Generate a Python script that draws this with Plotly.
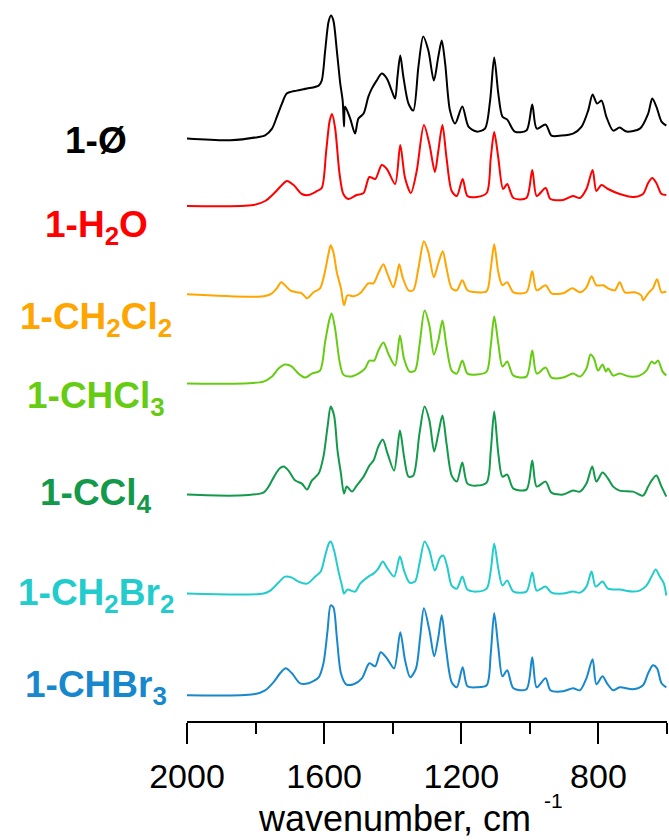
import plotly.graph_objects as go

# ---------------- data ----------------
labels = ["1-Ø", "1-H<sub>2</sub>O", "1-CH<sub>2</sub>Cl<sub>2</sub>", "1-CHCl<sub>3</sub>",
          "1-CCl<sub>4</sub>", "1-CH<sub>2</sub>Br<sub>2</sub>", "1-CHBr<sub>3</sub>"]
colors = ["#000000", "#FF0000", "#FFA500", "#66CC11", "#12994A", "#22CCCC", "#1888CC"]
offsets = [5.824, 5.15, 4.267, 3.374, 2.264, 1.274, 0.257]
label_y = [5.81, 4.94, 4.02, 3.23, 2.26, 1.26, 0.34]

wn_black = [2000, 1874, 1791, 1772, 1752, 1738, 1723, 1709, 1680, 1650, 1616, 1607, 1597, 1587, 1580, 1573, 1563, 1553, 1546, 1542, 1539, 1524, 1510, 1500, 1485, 1471, 1461, 1447, 1432, 1417, 1403, 1393, 1386, 1378, 1369, 1354, 1340, 1325, 1311, 1296, 1280, 1267, 1257, 1247, 1233, 1218, 1197, 1179, 1155, 1131, 1116, 1104, 1092, 1080, 1066, 1044, 1010, 993, 980, 954, 937, 908, 874, 849, 830, 817, 804, 791, 777, 757, 738, 718, 679, 655, 643, 631, 616, 602]
ab_black = [0, -1.7, 1.7, 3.3, 10, 21.7, 35, 45, 48, 50, 53, 58, 88, 117, 123, 118, 88, 55, 38, 12, 32, 20, 5, 20, 25, 42, 50, 58, 65, 60, 48, 40, 62, 83, 62, 35, 28, 72, 102, 88, 58, 82, 98, 75, 28, 15, 32, 12, 7, 10, 38, 81, 45, 22, 19, 7, 8, 34, 10, 14, 3, 3, 5, 12, 28, 44, 35, 38, 22, 8, 11, 7, 10, 25, 40, 32, 17, 13]

wn_red = [2000, 1806, 1772, 1748, 1723, 1709, 1689, 1665, 1646, 1621, 1607, 1594, 1584, 1577, 1568, 1555, 1544, 1529, 1505, 1485, 1468, 1451, 1432, 1417, 1393, 1378, 1364, 1347, 1330, 1309, 1293, 1277, 1267, 1255, 1243, 1228, 1213, 1196, 1182, 1155, 1126, 1114, 1104, 1092, 1078, 1066, 1048, 1010, 993, 980, 954, 940, 903, 874, 854, 835, 817, 806, 791, 772, 738, 699, 670, 655, 643, 631, 616, 602]
ab_red = [0, 1, 5, 12, 21, 25, 21, 12, 11, 15, 18, 55, 85, 92, 78, 32, 12, 7, 11, 13, 29, 27, 41, 37, 22, 61, 28, 13, 35, 81, 62, 34, 55, 81, 48, 15, 10, 27, 10, 9, 13, 48, 74, 48, 17, 22, 8, 8, 36, 10, 18, 7, 6, 10, 8, 17, 36, 15, 21, 17, 12, 9, 12, 23, 28, 23, 12, 11]

wn_orange = [2000, 1777, 1752, 1738, 1725, 1714, 1699, 1680, 1665, 1650, 1631, 1612, 1600, 1587, 1581, 1573, 1563, 1551, 1542, 1532, 1514, 1495, 1471, 1456, 1442, 1427, 1417, 1398, 1390, 1381, 1371, 1354, 1340, 1325, 1309, 1296, 1280, 1267, 1254, 1243, 1228, 1213, 1197, 1182, 1155, 1126, 1114, 1104, 1092, 1080, 1066, 1048, 1010, 993, 980, 954, 937, 903, 876, 854, 835, 820, 806, 786, 772, 752, 738, 723, 694, 675, 670, 655, 641, 629, 616, 602]
ab_orange = [0, -2, 1, 6, 12, 9, 4, 2, 1, -4, 2, 6, 19, 41, 49, 42, 22, 6, -11, -1, -2, 1, 11, 11, 21, 30, 22, 7, 16, 30, 17, 4, 4, 26, 53, 42, 17, 31, 43, 26, 6, 4, 14, 4, 2, 3, 26, 50, 22, 9, 12, 2, 2, 23, 4, 9, 1, 1, 6, 2, 7, 18, 9, 9, 6, 4, 12, 2, 2, -1, -6, 1, 6, 15, 2, 3]

wn_lgreen = [2000, 1777, 1752, 1733, 1714, 1694, 1675, 1655, 1636, 1612, 1597, 1584, 1578, 1568, 1555, 1544, 1524, 1500, 1481, 1468, 1454, 1442, 1427, 1413, 1393, 1379, 1367, 1351, 1335, 1322, 1307, 1293, 1280, 1267, 1255, 1243, 1228, 1213, 1197, 1182, 1155, 1126, 1114, 1104, 1092, 1080, 1066, 1048, 1010, 993, 980, 954, 937, 903, 874, 854, 835, 823, 813, 801, 788, 778, 772, 757, 738, 709, 680, 660, 645, 636, 626, 613, 602]
ab_lgreen = [0, 2, 7, 15, 19, 17, 10, 6, 10, 13, 42, 65, 70, 55, 22, 9, 7, 10, 15, 23, 23, 33, 41, 30, 18, 48, 25, 12, 13, 38, 73, 58, 29, 43, 63, 37, 13, 10, 23, 10, 9, 12, 38, 67, 40, 17, 22, 8, 7, 33, 10, 16, 6, 6, 10, 7, 15, 29, 25, 13, 19, 12, 15, 8, 10, 7, 8, 13, 22, 20, 23, 12, 8]

wn_dgreen = [2000, 1854, 1777, 1762, 1746, 1730, 1718, 1704, 1684, 1665, 1650, 1636, 1616, 1602, 1590, 1581, 1571, 1561, 1551, 1542, 1534, 1519, 1505, 1485, 1468, 1456, 1442, 1429, 1415, 1396, 1379, 1367, 1354, 1340, 1322, 1307, 1293, 1279, 1267, 1255, 1243, 1228, 1213, 1197, 1182, 1155, 1126, 1114, 1104, 1092, 1080, 1066, 1048, 1010, 993, 980, 954, 937, 903, 874, 854, 835, 818, 806, 788, 772, 757, 738, 699, 670, 655, 643, 631, 616, 602]
ab_dgreen = [0, -1, 2, 8, 18, 26, 28, 24, 14, 11, 5, 14, 21, 38, 68, 88, 79, 44, 21, 1, 8, 3, 9, 18, 29, 34, 48, 55, 41, 24, 64, 38, 18, 19, 61, 88, 74, 43, 61, 79, 51, 19, 13, 32, 11, 9, 12, 44, 83, 41, 18, 20, 6, 5, 34, 8, 13, 2, 0, 4, 3, 11, 28, 13, 22, 16, 8, 4, 3, -1, 8, 15, 19, 8, -2]

wn_cyan = [2000, 1777, 1757, 1733, 1714, 1694, 1675, 1650, 1626, 1610, 1597, 1585, 1580, 1571, 1558, 1548, 1542, 1532, 1510, 1495, 1471, 1456, 1442, 1429, 1417, 1396, 1379, 1367, 1351, 1335, 1322, 1307, 1293, 1277, 1262, 1252, 1241, 1228, 1213, 1197, 1182, 1155, 1126, 1114, 1104, 1092, 1080, 1066, 1048, 1010, 993, 980, 954, 937, 903, 874, 854, 835, 820, 808, 788, 772, 738, 699, 680, 660, 645, 633, 621, 609, 602]
ab_cyan = [0, 0, 3, 11, 17, 16, 12, 10, 17, 22, 38, 51, 52, 43, 22, 8, 0, 4, 2, 10, 17, 20, 25, 32, 26, 17, 37, 23, 11, 12, 30, 52, 43, 23, 36, 38, 27, 8, 5, 17, 4, 2, 5, 23, 50, 25, 8, 13, 2, 2, 21, 3, 7, 1, 0, 2, 1, 7, 22, 7, 12, 5, 4, 2, 3, 8, 17, 24, 17, 10, -2]

wn_blue = [2000, 1806, 1772, 1748, 1726, 1712, 1694, 1670, 1646, 1616, 1602, 1590, 1581, 1573, 1563, 1551, 1536, 1514, 1490, 1468, 1451, 1435, 1417, 1396, 1378, 1364, 1349, 1332, 1320, 1309, 1293, 1279, 1267, 1257, 1245, 1228, 1213, 1196, 1182, 1155, 1126, 1114, 1104, 1092, 1080, 1066, 1048, 1010, 993, 980, 954, 940, 903, 874, 854, 835, 817, 806, 788, 775, 757, 738, 699, 670, 655, 641, 629, 616, 602]
ab_blue = [0, 1, 5, 13, 23, 27, 22, 12, 12, 18, 32, 65, 90, 88, 58, 22, 11, 11, 17, 32, 29, 43, 37, 27, 63, 35, 18, 27, 58, 87, 65, 39, 58, 80, 48, 13, 8, 28, 9, 8, 10, 42, 82, 48, 19, 25, 7, 6, 38, 8, 17, 5, 4, 7, 5, 17, 36, 11, 19, 12, 5, 8, 6, 10, 22, 30, 27, 12, 8]

wavenumbers = [wn_black, wn_red, wn_orange, wn_lgreen, wn_dgreen, wn_cyan, wn_blue]
absorbances = [ab_black, ab_red, ab_orange, ab_lgreen, ab_dgreen, ab_cyan, ab_blue]

x_ticks = [2000, 1600, 1200, 800]
x_minor = [1800, 1400, 1000, 600]
scale = 0.01  # absorbance (a.u.) per digitized unit

FONT = "Arial, Liberation Sans, sans-serif"

fig = go.Figure()
for wn, ab, off, col in zip(wavenumbers, absorbances, offsets, colors):
    fig.add_trace(go.Scatter(
        x=wn, y=[off + v * scale for v in ab], mode="lines",
        line=dict(color=col, width=2, shape="spline", smoothing=0.8),
        showlegend=False, hoverinfo="skip"))

for lab, ly, col in zip(labels, label_y, colors):
    fig.add_annotation(x=-0.189, xref="paper", y=ly, yref="y",
                       text="<b>" + lab + "</b>", showarrow=False,
                       xanchor="center", yanchor="middle",
                       font=dict(family=FONT, size=37, color=col))

fig.add_annotation(x=0.433, xref="paper", y=-0.166, yref="paper",
                   text="wavenumber, cm", showarrow=False,
                   xanchor="center", yanchor="bottom",
                   font=dict(family=FONT, size=36, color="black"))
fig.add_annotation(x=0.7625, xref="paper", y=-0.11, yref="paper",
                   text="-1", showarrow=False, xanchor="center", yanchor="middle",
                   font=dict(family=FONT, size=21, color="black"))

fig.update_xaxes(range=[2000, 600], showline=True, linecolor="black", linewidth=2,
                 ticks="outside", ticklen=21, tickwidth=2, tickcolor="black",
                 tickvals=x_ticks, ticktext=[str(v) for v in x_ticks],
                 tickfont=dict(family=FONT, size=34, color="black"),
                 ticklabelstandoff=3,
                 minor=dict(tickvals=x_minor, ticks="outside", ticklen=11,
                            tickwidth=2, tickcolor="black"),
                 showgrid=False, zeroline=False, mirror=False)
fig.update_yaxes(range=[0, 7.21], visible=False, showgrid=False, zeroline=False)

fig.update_layout(width=669, height=840, margin=dict(l=187, r=2, t=0, b=119),
                  plot_bgcolor="white", paper_bgcolor="white")

fig.write_html("out.html")
